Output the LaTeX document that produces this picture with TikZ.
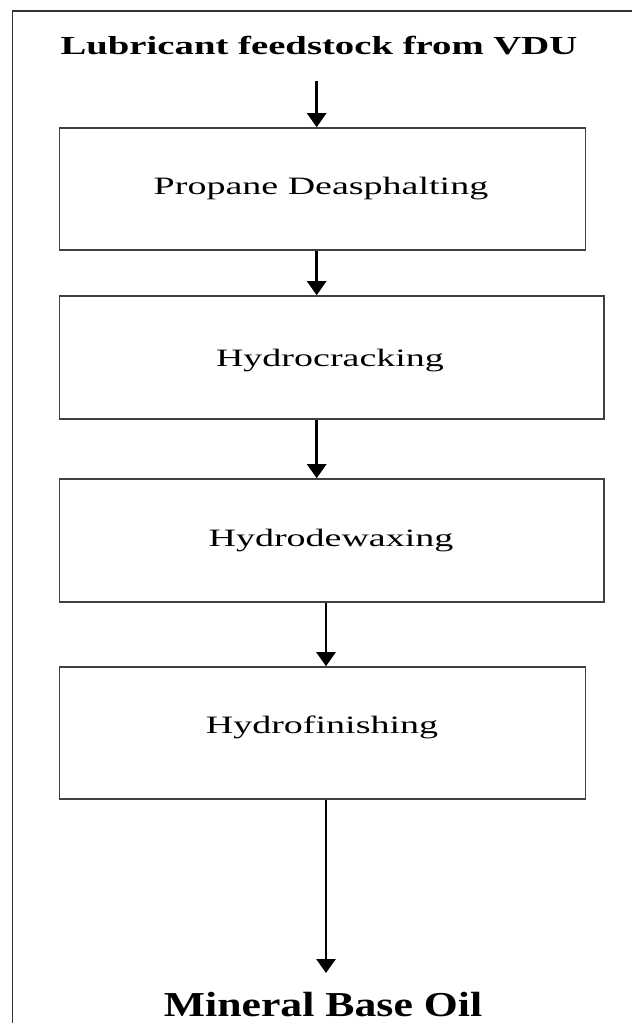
\documentclass[tikz,border=0pt]{standalone}
\usepackage{fontspec}
\setmainfont{Liberation Serif}
\usetikzlibrary{arrows.meta}
\tikzset{
  framebox/.style={draw=black!80, line width=1.6pt},
  procbox/.style={draw=black!75, line width=1.6pt, rectangle, inner sep=0pt},
  label/.style={inner sep=0pt, anchor=base},
  flow/.style={line width=2.6pt, -{Triangle[width=19pt,length=14pt]}},
}
\begin{document}
\begin{tikzpicture}[x=1pt,y=-1pt]
\useasboundingbox (0,0) rectangle (632,1023);
\fill[white] (0,0) rectangle (632,1023);
\draw[framebox] (633,10.7) -- (12.5,10.7) -- (12.5,1024);
% process boxes
\node[procbox, minimum width=526pt, minimum height=122pt] (b1) at (322.5,189) {};
\node[procbox, minimum width=544.5pt, minimum height=123pt] (b2) at (331.8,357.5) {};
\node[procbox, minimum width=544.5pt, minimum height=123pt] (b3) at (331.8,540.5) {};
\node[procbox, minimum width=526pt, minimum height=132pt] (b4) at (322.5,733) {};
% texts
\node[label] (title) at (319,54) {\fontsize{26}{30}\selectfont\bfseries\scalebox{1.49}[1]{Lubricant feedstock from VDU}};
\node[label] (t1) at (321,194) {\fontsize{25}{28}\selectfont\scalebox{1.52}[1]{Propane Deasphalting}};
\node[label] (t2) at (330,366) {\fontsize{25}{28}\selectfont\scalebox{1.52}[1]{Hydrocracking}};
\node[label] (t3) at (331,546) {\fontsize{25}{28}\selectfont\scalebox{1.52}[1]{Hydrodewaxing}};
\node[label] (t4) at (322,733) {\fontsize{25}{28}\selectfont\scalebox{1.52}[1]{Hydrofinishing}};
\node[label] (out) at (323,1016) {\fontsize{35}{40}\selectfont\bfseries\scalebox{1.25}[1]{Mineral Base Oil}};
% connectors
\coordinate (s1) at (316.7,81);
\coordinate (s5) at (326,973);
\draw[flow] (s1) -- (s1 |- b1.north);
\draw[flow] (b1.south -| s1) -- (s1 |- b2.north);
\draw[flow] (b2.south -| s1) -- (s1 |- b3.north);
\draw[flow] (b3.south -| s5) -- (s5 |- b4.north);
\draw[flow] (b4.south -| s5) -- (s5);
\end{tikzpicture}
\end{document}
